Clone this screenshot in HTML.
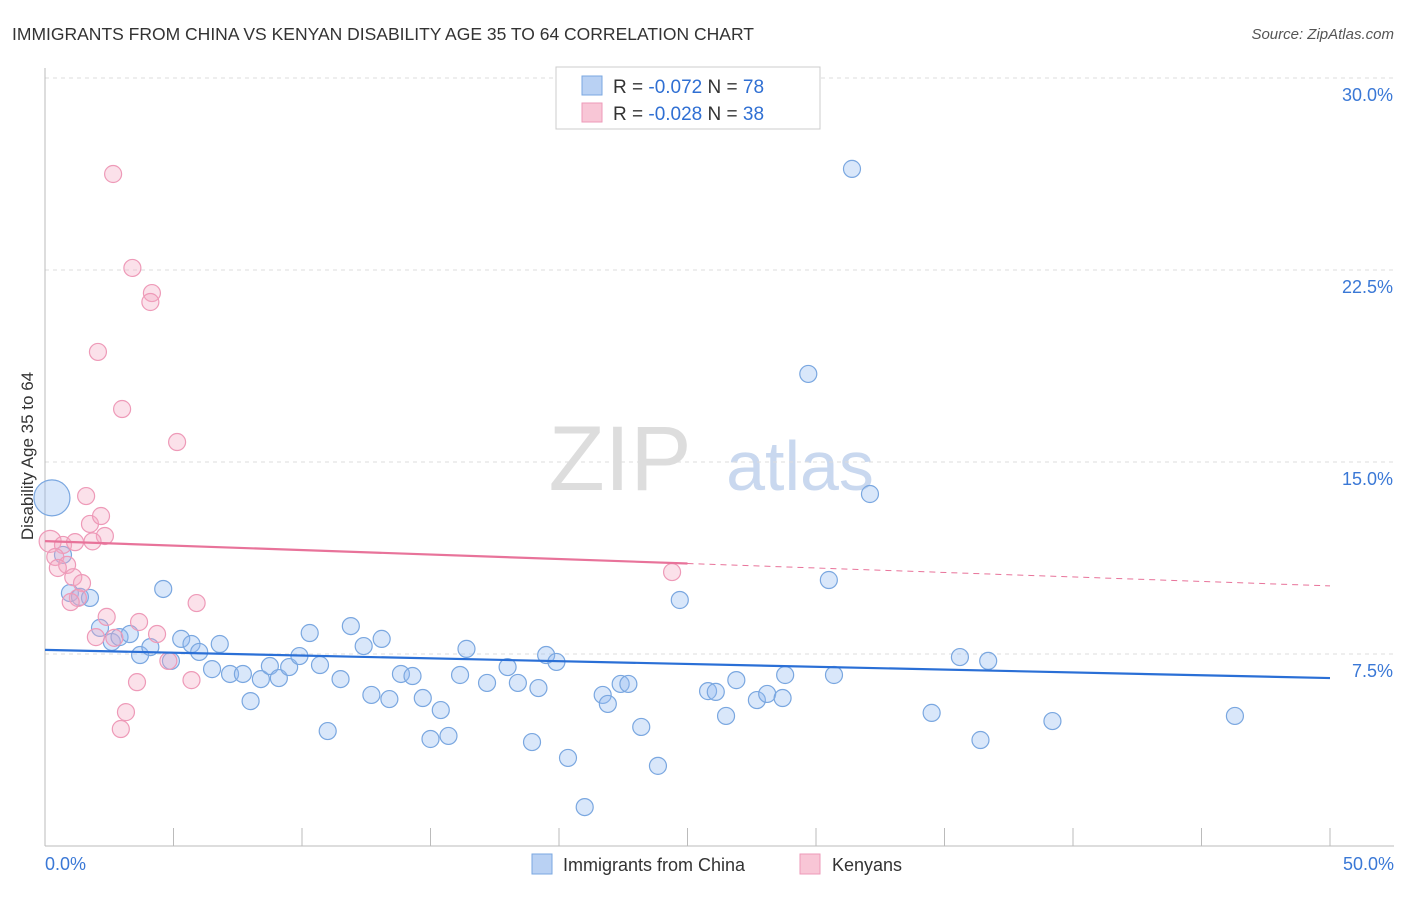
<!DOCTYPE html>
<html><head><meta charset="utf-8"><style>
body{margin:0;background:#fff;font-family:"Liberation Sans",sans-serif}
svg text{font-family:"Liberation Sans",sans-serif}
</style></head><body>
<svg id="chart" width="1406" height="892" xmlns="http://www.w3.org/2000/svg">
<text x="12" y="40" font-size="17.5" fill="#333">IMMIGRANTS FROM CHINA VS KENYAN DISABILITY AGE 35 TO 64 CORRELATION CHART</text>
<text x="1394" y="39" font-size="15" fill="#555" text-anchor="end" font-style="italic">Source: ZipAtlas.com</text>
<g>
<text x="620" y="490" font-size="92" fill="#ddd" font-family="Liberation Serif" text-anchor="middle">ZIP</text>
<text x="800" y="490" font-size="70" fill="#c9d8ef" text-anchor="middle">atlas</text>
</g>
<g id="grid"></g>
<g id="axes"></g>
<g id="marks"></g>
<g>
<rect x="556" y="67" width="264" height="62" fill="#fff" stroke="#ccc"/>
<rect x="582" y="76" width="20" height="19" fill="#b9d1f3" stroke="#7aa7e0"/>
<rect x="582" y="103" width="20" height="19" fill="#f8c6d6" stroke="#ee9ab8"/>
<text x="613" y="93" font-size="19" fill="#333">R = <tspan fill="#2f6fd3">-0.072</tspan>   N = <tspan fill="#2f6fd3">78</tspan></text>
<text x="613" y="120" font-size="19" fill="#333">R = <tspan fill="#2f6fd3">-0.028</tspan>   N = <tspan fill="#2f6fd3">38</tspan></text>
</g>
<text transform="translate(33,456) rotate(-90)" font-size="17" fill="#333" text-anchor="middle">Disability Age 35 to 64</text>
<text x="45" y="870" font-size="18" fill="#3a78d6">0.0%</text>
<text x="1394" y="870" font-size="18" fill="#3a78d6" text-anchor="end">50.0%</text>
<g>
<rect x="532" y="854" width="20" height="20" fill="#b9d1f3" stroke="#7aa7e0"/>
<text x="563" y="871" font-size="18" fill="#333">Immigrants from China</text>
<rect x="800" y="854" width="20" height="20" fill="#f8c6d6" stroke="#ee9ab8"/>
<text x="832" y="871" font-size="18" fill="#333">Kenyans</text>
</g>
</svg>
<script>
const yTicks=[7.5,15,22.5,30];
const yTickLabels=["7.5%","15.0%","22.5%","30.0%"];
const xTicks=[0,5,10,15,20,25,30,35,40,45,50];
const chinaX=[0.27,0.7,0.97,1.36,1.75,2.14,2.6,2.9,3.3,3.7,4.1,4.6,4.9,5.3,5.7,6.0,6.5,6.8,7.2,7.7,8.0,8.4,8.75,9.1,9.5,9.9,10.3,10.7,11.0,11.5,11.9,12.4,12.7,13.1,13.4,13.85,14.3,14.7,15.0,15.4,15.7,16.15,16.4,17.2,18.0,18.4,18.95,19.2,19.5,19.9,20.35,21.0,21.7,21.9,22.4,22.7,23.2,23.85,24.7,25.8,26.1,26.5,26.9,27.7,28.1,28.7,28.8,29.7,30.5,30.7,31.4,32.1,34.5,35.6,36.4,36.7,39.2,46.3];
const chinaY=[13.6,11.37,9.88,9.73,9.69,8.52,7.97,8.16,8.28,7.46,7.77,10.04,7.23,8.09,7.89,7.58,6.91,7.89,6.72,6.72,5.66,6.52,7.03,6.56,6.99,7.42,8.32,7.07,4.49,6.52,8.59,7.81,5.9,8.09,5.74,6.72,6.64,5.78,4.18,5.31,4.3,6.68,7.7,6.37,6.99,6.37,4.06,6.17,7.46,7.19,3.44,1.52,5.9,5.55,6.33,6.33,4.65,3.13,9.61,6.05,6.02,5.08,6.48,5.7,5.94,5.78,6.68,18.44,10.39,6.68,26.45,13.75,5.2,7.38,4.14,7.23,4.88,5.08];
const kenyaX=[2.65,3.4,4.16,4.1,2.06,3.0,5.14,1.6,1.75,2.18,2.33,0.2,0.7,1.17,0.4,0.86,0.5,1.1,1.44,1.28,1.0,5.9,2.4,3.66,1.98,2.7,4.36,4.8,3.58,5.7,3.15,2.95,24.4,1.85];
const kenyaY=[26.25,22.58,21.6,21.25,19.3,17.07,15.78,13.67,12.58,12.89,12.11,11.9,11.76,11.87,11.29,10.98,10.86,10.5,10.27,9.69,9.53,9.49,8.95,8.75,8.16,8.13,8.28,7.23,6.4,6.48,5.23,4.57,10.7,11.9];
const chinaTrend=[7.66,6.56];
const kenyaTrend=[11.91,10.16];
const kenyaSolidEnd=25;
const xs=v=>45+v*25.7, ys=v=>846-v*25.6;
const NS="http://www.w3.org/2000/svg";
function mk(tag,attrs,parent){const e=document.createElementNS(NS,tag);for(const k in attrs)e.setAttribute(k,attrs[k]);document.getElementById(parent).appendChild(e);return e;}
yTicks.forEach((t,i)=>{
 const g=mk('line',{x1:45,x2:1394,y1:ys(t),y2:ys(t),stroke:'#ddd','stroke-dasharray':'4,4'},'grid');
 
 
 const l=mk('text',{x:1393,y:ys(t)+23,'font-size':18,fill:'#3a78d6','text-anchor':'end'},'grid');
 l.textContent=yTickLabels[i];
 
 
});
const ya=mk('line',{x1:45,x2:45,y1:68,y2:846,stroke:'#bbb'},'axes');


const xa=mk('line',{x1:45,x2:1394,y1:846,y2:846,stroke:'#bbb'},'axes');


xTicks.forEach(t=>{
 const k=mk('line',{x1:xs(t),x2:xs(t),y1:828,y2:846,stroke:'#bbb'},'axes');
 
 
});
chinaX.forEach((x,i)=>{
 const c=mk('circle',{cx:xs(x),cy:ys(chinaY[i]),r:i===0?18:8.5,fill:'rgba(147,187,240,0.35)',stroke:'#7aa7e0','stroke-width':1.2},'marks');
 
 
});
kenyaX.forEach((x,i)=>{
 const c=mk('circle',{cx:xs(x),cy:ys(kenyaY[i]),r:i===11?11:8.5,fill:'rgba(244,170,195,0.35)',stroke:'#ee9ab8','stroke-width':1.2},'marks');
 
 
});
const bt=mk('line',{x1:xs(0),y1:ys(chinaTrend[0]),x2:xs(50),y2:ys(chinaTrend[1]),stroke:'#2a6fd6','stroke-width':2.2},'marks');


const kAt=x=>kenyaTrend[0]+(kenyaTrend[1]-kenyaTrend[0])*x/50;
const pt=mk('line',{x1:xs(0),y1:ys(kenyaTrend[0]),x2:xs(kenyaSolidEnd),y2:ys(kAt(kenyaSolidEnd)),stroke:'#e8739a','stroke-width':2.2},'marks');


const pd=mk('line',{x1:xs(kenyaSolidEnd),y1:ys(kAt(kenyaSolidEnd)),x2:xs(50),y2:ys(kenyaTrend[1]),stroke:'#e8739a','stroke-width':1,'stroke-dasharray':'6,5'},'marks');


</script>
</body></html>
